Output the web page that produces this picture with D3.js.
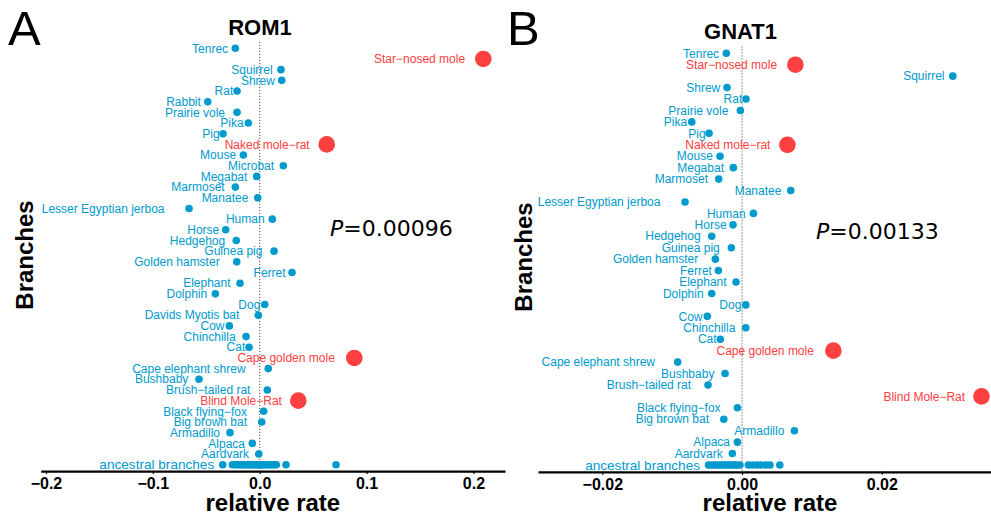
<!DOCTYPE html>
<html>
<head>
<meta charset="utf-8">
<script src="https://cdn.jsdelivr.net/npm/d3@7"></script>
<style>
  body { margin: 0; background: #fff; }
  svg { display: block; }
</style>
</head>
<body>
<svg id="chart" width="991" height="518"></svg>
<script>
// ---- ROM1: relative evolutionary rate per branch (top to bottom) ----
const romBranches = [
  "Tenrec", "Star\u2212nosed mole", "Squirrel", "Shrew", "Rat", "Rabbit", "Prairie vole",
  "Pika", "Pig", "Naked mole\u2212rat", "Mouse", "Microbat", "Megabat", "Marmoset",
  "Manatee", "Lesser Egyptian jerboa", "Human", "Horse", "Hedgehog", "Guinea pig",
  "Golden hamster", "Ferret", "Elephant", "Dolphin", "Dog", "Davids Myotis bat", "Cow",
  "Chinchilla", "Cat", "Cape golden mole", "Cape elephant shrew", "Bushbaby",
  "Brush\u2212tailed rat", "Blind Mole\u2212Rat", "Black flying\u2212fox", "Big brown bat",
  "Armadillo", "Alpaca", "Aardvark"
];
const romRates = [
  -0.0228, 0.2092, 0.0199, 0.0206, -0.0212, -0.0486, -0.0212,
  -0.0107, -0.0343, 0.0627, -0.0153, 0.0221, -0.0028, -0.0228,
  -0.0019, -0.0661, 0.0118, -0.0318, -0.0219, 0.0134,
  -0.0215, 0.0302, -0.0184, -0.0415, 0.0047, -0.0013, -0.0284,
  -0.0128, -0.0100, 0.0885, 0.0080, -0.0568,
  0.0071, 0.0361, 0.0037, 0.0019,
  -0.0278, -0.0069, -0.0009
];
const romAncestral = [
  -0.0346, -0.0256, -0.0225, -0.0205, -0.0185, -0.0170, -0.0155, -0.0140, -0.0125,
  -0.0110, -0.0095, -0.0080, -0.0068, -0.0055, -0.0042, -0.0030, -0.0018, -0.0006,
  0.0006, 0.0018, 0.0030, 0.0045, 0.0060, 0.0078, 0.0095, 0.0115, 0.0135, 0.0155,
  0.0246, 0.0714
];
const romTicks = [-0.2, -0.1, 0.0, 0.1, 0.2];

// ---- GNAT1: relative evolutionary rate per branch (top to bottom) ----
const gnatBranches = [
  "Tenrec", "Star\u2212nosed mole", "Squirrel", "Shrew", "Rat", "Prairie vole", "Pika",
  "Pig", "Naked mole\u2212rat", "Mouse", "Megabat", "Marmoset", "Manatee",
  "Lesser Egyptian jerboa", "Human", "Horse", "Hedgehog", "Guinea pig", "Golden hamster",
  "Ferret", "Elephant", "Dolphin", "Dog", "Cow", "Chinchilla", "Cat", "Cape golden mole",
  "Cape elephant shrew", "Bushbaby", "Brush\u2212tailed rat", "Blind Mole\u2212Rat",
  "Black flying\u2212fox", "Big brown bat", "Armadillo", "Alpaca", "Aardvark"
];
const gnatRates = [
  -0.00225, 0.00763, 0.03016, -0.00215, 0.00057, -0.00024, -0.00720,
  -0.00472, 0.00649, -0.00315, -0.00125, -0.00334, 0.00697,
  -0.00816, 0.00162, -0.00129, -0.00434, -0.00153, -0.00382,
  -0.00339, -0.00086, -0.00434, 0.00053, -0.00497, 0.00053, -0.00311, 0.01307,
  -0.00921, -0.00243, -0.00487, 0.03426,
  -0.00067, -0.00262, 0.00749, -0.00067, -0.00139
];
const gnatAncestral = [
  -0.0048, -0.0044, -0.0040, -0.0036, -0.0032, -0.0028, -0.0025, -0.0022, -0.0019,
  -0.0016, -0.0013, -0.0010, -0.0007, -0.0003, 0.0009, 0.0015, 0.0021, 0.0027,
  0.0034, 0.0040, 0.0054
];
const gnatTicks = [-0.02, 0.00, 0.02];

// Subterranean species shown in red
const subterranean = ["Star\u2212nosed mole", "Naked mole\u2212rat", "Cape golden mole", "Blind Mole\u2212Rat"];
const ancestralLabel = "ancestral branches";

const BLUE = "#009ACD";
const RED = "#FF4040";
const SANS = "'Liberation Sans', Arial, Helvetica, sans-serif";

const svg = d3.select("#chart");

function drawPanel(opt) {
  const g = svg.append("g");
  const x = d3.scaleLinear().domain(opt.xDomain).range(opt.xRange);
  const rows = opt.branches.concat([ancestralLabel]);
  const y = d3.scalePoint().domain(rows).range(opt.yRange);
  const step = y.step();
  const top = opt.yRange[0] - 0.6 * step;
  const bottom = opt.yRange[1] + 0.6 * step;

  // zero reference line
  g.append("line")
    .attr("x1", x(0)).attr("x2", x(0))
    .attr("y1", top).attr("y2", bottom)
    .attr("stroke", "#333").attr("stroke-width", 1)
    .attr("stroke-dasharray", "1,2");

  // x axis
  const axis = d3.axisBottom(x)
    .tickValues(opt.ticks)
    .tickFormat(d3.format(opt.tickFmt))
    .tickSize(3).tickSizeOuter(0).tickPadding(3.5);
  const ax = g.append("g").attr("transform", `translate(0,${bottom})`).call(axis);
  ax.select(".domain").attr("stroke", "#000").attr("stroke-width", 2.2);
  ax.selectAll(".tick line").attr("stroke", "#000").attr("stroke-width", 1.2);
  ax.selectAll(".tick text")
    .attr("fill", "#000")
    .style("font-family", SANS).style("font-size", "16px").style("font-weight", "bold");

  const data = opt.branches.map((b, i) => ({ name: b, v: opt.rates[i], red: subterranean.includes(b) }));

  // ancestral branch points
  g.selectAll("circle.anc").data(opt.ancestral).enter().append("circle")
    .attr("class", "anc")
    .attr("cx", d => x(d)).attr("cy", y(ancestralLabel))
    .attr("r", 3.8).attr("fill", BLUE);

  // terminal branch points
  g.selectAll("circle.tip").data(data).enter().append("circle")
    .attr("class", "tip")
    .attr("cx", d => x(d.v)).attr("cy", d => y(d.name))
    .attr("r", d => d.red ? 8.3 : 3.8)
    .attr("fill", d => d.red ? RED : BLUE);

  // branch labels, right-justified slightly left of each point
  g.selectAll("text.lab").data(data).enter().append("text")
    .attr("class", "lab")
    .attr("y", d => y(d.name)).attr("dy", "0.35em")
    .attr("text-anchor", "end")
    .attr("fill", d => d.red ? RED : BLUE)
    .style("font-family", SANS).style("font-size", "12px")
    .text(d => d.name)
    .attr("x", function (d) { return x(d.v) - 0.2 * this.getComputedTextLength(); });

  g.append("text")
    .attr("x", x(d3.min(opt.ancestral)) - 8.5)
    .attr("y", y(ancestralLabel)).attr("dy", "0.35em")
    .attr("text-anchor", "end").attr("fill", BLUE)
    .style("font-family", SANS).style("font-size", "13.6px")
    .text(ancestralLabel);

  // titles
  const midX = (opt.xRange[0] + opt.xRange[1]) / 2;
  g.append("text")
    .attr("x", opt.titleX).attr("y", opt.titleY)
    .attr("text-anchor", "middle")
    .style("font-family", SANS).style("font-size", "22px").style("font-weight", "bold")
    .text(opt.title);

  g.append("text")
    .attr("x", midX).attr("y", 511)
    .attr("text-anchor", "middle")
    .style("font-family", SANS).style("font-size", "24px").style("font-weight", "bold")
    .text("relative rate");

  g.append("text")
    .attr("transform", `translate(${opt.yTitleX},${opt.yTitleY}) rotate(-90)`)
    .attr("text-anchor", "middle")
    .style("font-family", SANS).style("font-size", "24px").style("font-weight", "bold")
    .text("Branches");

  g.append("text")
    .attr("x", opt.letterX).attr("y", 45)
    .style("font-family", SANS).style("font-size", "49px")
    .text(opt.letter);

  const p = g.append("text")
    .attr("x", opt.pX).attr("y", opt.pY)
    .style("font-family", "'DejaVu Sans', sans-serif").style("font-size", "22px");
  p.append("tspan").style("font-style", "italic").text("P");
  p.append("tspan").text("=" + opt.pValue);
}

drawPanel({
  letter: "A", letterX: 8, title: "ROM1", titleX: 260, titleY: 35,
  branches: romBranches, rates: romRates, ancestral: romAncestral,
  ticks: romTicks, tickFmt: ".1f",
  xDomain: [-0.2049, 0.2295], xRange: [40.7, 505],
  yRange: [48.3, 464.7],
  yTitleX: 33, yTitleY: 255,
  pValue: "0.00096", pX: 330, pY: 236
});

drawPanel({
  letter: "B", letterX: 507, title: "GNAT1", titleX: 740.5, titleY: 39,
  branches: gnatBranches, rates: gnatRates, ancestral: gnatAncestral,
  ticks: gnatTicks, tickFmt: ".2f",
  xDomain: [-0.0292, 0.0372], xRange: [538, 1002],
  yRange: [53.3, 465],
  yTitleX: 532, yTitleY: 257,
  pValue: "0.00133", pX: 816, pY: 239
});
</script>
</body>
</html>
